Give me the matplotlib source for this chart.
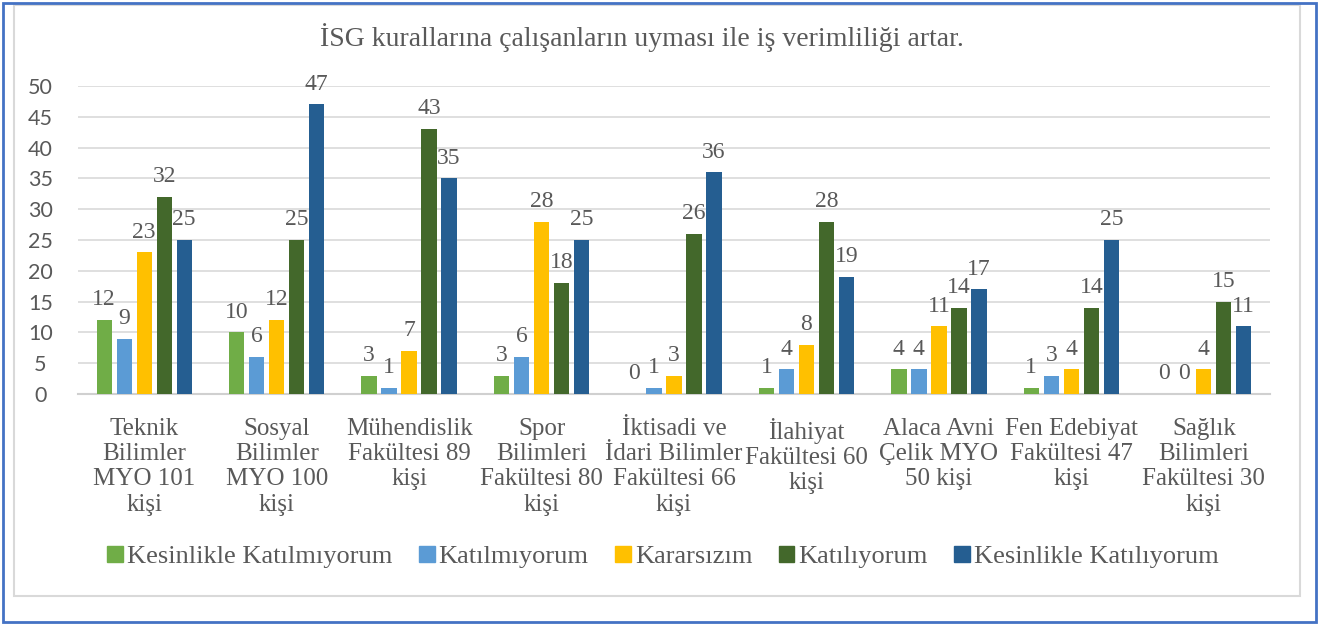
import numpy as np
from matplotlib import pyplot as plt
from matplotlib.patches import Patch, Rectangle

plt.rcParams["font.family"] = ["Liberation Serif", "DejaVu Serif"]

# Veriler
kategoriler = [
    "Teknik\nBilimler\nMYO 101\nkişi",
    "Sosyal\nBilimler\nMYO 100\nkişi",
    "Mühendislik\nFakültesi 89\nkişi",
    "Spor\nBilimleri\nFakültesi 80\nkişi",
    "İktisadi ve\nİdari Bilimler\nFakültesi 66\nkişi",
    "İlahiyat\nFakültesi 60\nkişi",
    "Alaca Avni\nÇelik MYO\n50 kişi",
    "Fen Edebiyat\nFakültesi 47\nkişi",
    "Sağlık\nBilimleri\nFakültesi 30\nkişi",
]
seri_adlari = ["Kesinlikle Katılmıyorum", "Katılmıyorum", "Kararsızım",
               "Katılıyorum", "Kesinlikle Katılıyorum"]
kesinlikle_katilmiyorum = [12, 10, 3, 3, 0, 1, 4, 1, 0]
katilmiyorum = [9, 6, 1, 6, 1, 4, 4, 3, 0]
kararsizim = [23, 12, 7, 28, 3, 8, 11, 4, 4]
katiliyorum = [32, 25, 43, 18, 26, 28, 14, 14, 15]
kesinlikle_katiliyorum = [25, 47, 35, 25, 36, 19, 17, 25, 11]
seriler = [kesinlikle_katilmiyorum, katilmiyorum, kararsizim,
           katiliyorum, kesinlikle_katiliyorum]
renkler = ["#70AD47", "#5B9BD5", "#FFC000", "#43682B", "#255E91"]

gri = "#595959"

fig = plt.figure(figsize=(13.19, 6.24), dpi=100)
ax = fig.add_axes([78 / 1319, 1 - 394 / 624, (1270 - 78) / 1319, (394 - 86) / 624])

x = np.arange(len(kategoriler))
genislik = 0.116
adim = 0.151
for i, (degerler, renk, ad) in enumerate(zip(seriler, renkler, seri_adlari)):
    konum = x + (i - 2) * adim
    ax.bar(konum, degerler, width=genislik, color=renk, label=ad, zorder=3)
    for xp, v in zip(konum, degerler):
        ax.annotate(str(v), (xp, v), xytext=(0, 7), textcoords="offset points",
                    ha="center", va="bottom", fontsize=17, color=gri, zorder=4)

ax.set_xlim(-0.5, len(kategoriler) - 0.5)
ax.set_ylim(0, 50)
ax.set_yticks(range(0, 51, 5))
ax.yaxis.grid(True, color="#d9d9d9", linewidth=1.2, zorder=0)
ax.set_axisbelow(True)
for s in ["top", "right", "left"]:
    ax.spines[s].set_visible(False)
ax.spines["bottom"].set_color("#d0d0d0")
ax.spines["bottom"].set_linewidth(1.5)
ax.tick_params(axis="both", length=0)
ax.tick_params(axis="y", labelsize=15.5, labelcolor=gri, pad=27)
for t in ax.get_yticklabels():
    t.set_family(["Lato", "DejaVu Sans"])
    t.set_horizontalalignment("center")
ax.set_xticks(x)
ax.set_xticklabels(kategoriler, fontsize=18, color=gri, linespacing=1.2)
ax.tick_params(axis="x", pad=17)

fig.text(642 / 1319, 1 - 38 / 624, "İSG kurallarına çalışanların uyması ile iş verimliliği artar.",
         ha="center", va="center", fontsize=20, color=gri)

tutamaclar = [Patch(color=r, label=a) for r, a in zip(renkler, seri_adlari)]
fig.legend(handles=tutamaclar, loc="center", bbox_to_anchor=(663 / 1319, 1 - 557 / 624),
           ncol=5, frameon=False, prop={"size": 19},
           labelcolor=gri, handlelength=0.6, handleheight=0.6,
           handletextpad=0.15, columnspacing=1.0)

# Çerçeveler
fig.patches.append(Rectangle((14 / 1319, 1 - 596 / 624), (1300 - 14) / 1319, (596 - 5) / 624,
                             transform=fig.transFigure, fill=False,
                             edgecolor="#d9d9d9", linewidth=1.5))
fig.patches.append(Rectangle((3 / 1319, 2 / 624), (1316 - 3) / 1319, (621 - 2) / 624,
                             transform=fig.transFigure, fill=False,
                             edgecolor="#4472C4", linewidth=2))

fig.savefig("out.png", dpi=100)
